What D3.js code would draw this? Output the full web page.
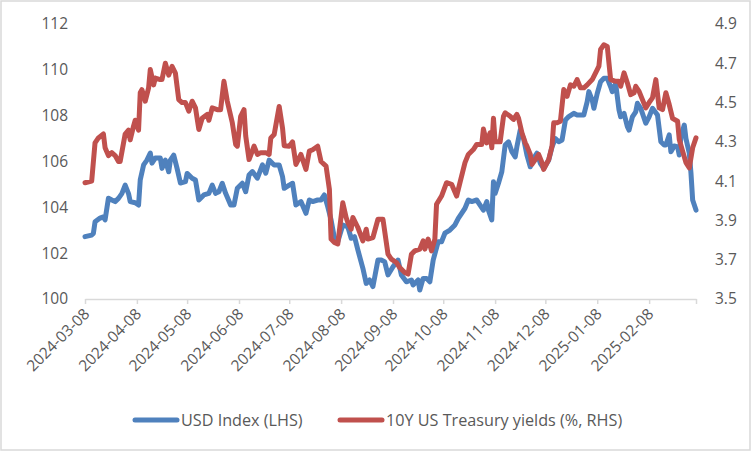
<!DOCTYPE html>
<html lang="en">
<head>
<meta charset="utf-8">
<script src="https://d3js.org/d3.v7.min.js"></script>
<style type="text/css">
body { margin: 0; background: #fff; }
/* chart text */
.chart text { font-family: "Open Sans", sans-serif; fill: #595959; }
</style>
</head>
<body>
<script type="text/javascript">

// USD index (left axis)
var usdDates = ["2024-03-08","2024-03-12","2024-03-13","2024-03-14","2024-03-17","2024-03-19","2024-03-20","2024-03-22","2024-03-24","2024-03-26",
"2024-03-28","2024-03-30","2024-04-01","2024-04-03","2024-04-04","2024-04-07","2024-04-09","2024-04-10","2024-04-12","2024-04-14",
"2024-04-16","2024-04-17","2024-04-19","2024-04-22","2024-04-23","2024-04-25","2024-04-27","2024-04-28","2024-04-30","2024-05-02",
"2024-05-04","2024-05-07","2024-05-08","2024-05-11","2024-05-13","2024-05-15","2024-05-18","2024-05-21","2024-05-23","2024-05-25",
"2024-05-27","2024-05-29","2024-05-31","2024-06-03","2024-06-05","2024-06-07","2024-06-10","2024-06-12","2024-06-14","2024-06-16",
"2024-06-19","2024-06-22","2024-06-24","2024-06-26","2024-06-29","2024-07-02","2024-07-04","2024-07-05","2024-07-08","2024-07-10",
"2024-07-12","2024-07-15","2024-07-18","2024-07-20","2024-07-22","2024-07-25","2024-07-27","2024-07-29","2024-07-31","2024-08-02",
"2024-08-04","2024-08-06","2024-08-09","2024-08-12","2024-08-14","2024-08-16","2024-08-18","2024-08-21","2024-08-23","2024-08-25",
"2024-08-27","2024-08-30","2024-09-01","2024-09-03","2024-09-05","2024-09-08","2024-09-11","2024-09-13","2024-09-16","2024-09-19",
"2024-09-20","2024-09-23","2024-09-24","2024-09-26","2024-09-28","2024-09-30","2024-10-02","2024-10-05","2024-10-07","2024-10-09",
"2024-10-12","2024-10-15","2024-10-17","2024-10-19","2024-10-21","2024-10-23","2024-10-25","2024-10-28","2024-10-30","2024-11-01",
"2024-11-03","2024-11-04","2024-11-06","2024-11-07","2024-11-08","2024-11-10","2024-11-12","2024-11-14","2024-11-16","2024-11-18",
"2024-11-20","2024-11-21","2024-11-23","2024-11-25","2024-11-27","2024-11-29","2024-12-01","2024-12-03","2024-12-05","2024-12-07",
"2024-12-10","2024-12-12","2024-12-14","2024-12-16","2024-12-18","2024-12-20","2024-12-22","2024-12-25","2024-12-27","2024-12-29",
"2024-12-31","2025-01-02","2025-01-03","2025-01-05","2025-01-06","2025-01-08","2025-01-10","2025-01-12","2025-01-14","2025-01-16",
"2025-01-17","2025-01-19","2025-01-21","2025-01-22","2025-01-24","2025-01-26","2025-01-27","2025-01-29","2025-01-31","2025-02-01",
"2025-02-03","2025-02-06","2025-02-08","2025-02-10","2025-02-13","2025-02-15","2025-02-17","2025-02-18","2025-02-20","2025-02-21",
"2025-02-23","2025-02-25","2025-02-26","2025-02-27","2025-03-01","2025-03-02","2025-03-04","2025-03-05","2025-03-06","2025-03-08"];
var usdValues = [102.72,102.79,102.86,103.37,103.53,103.59,103.45,104.40,104.32,104.25,
104.39,104.60,104.97,104.60,104.25,104.20,104.10,105.20,105.85,106.06,
106.37,105.93,106.15,106.15,105.70,106.06,105.55,106.06,106.28,105.70,
105.06,105.12,105.48,105.27,105.19,104.32,104.54,104.61,104.97,104.61,
104.68,105.05,104.61,104.10,104.10,104.83,105.05,104.68,105.41,105.56,
105.27,105.85,105.49,106.06,105.85,105.85,105.34,104.83,104.97,105.05,
104.10,104.25,103.74,104.32,104.25,104.32,104.32,104.54,104.03,103.45,
102.65,102.50,103.23,103.15,102.65,102.72,102.14,101.34,100.68,100.83,
100.54,101.70,101.70,101.63,101.05,101.41,101.70,101.05,100.75,100.83,
100.61,100.83,100.39,100.90,100.90,100.75,101.70,102.50,102.50,102.87,
103.01,103.23,103.52,103.74,103.96,104.32,104.25,104.32,104.10,103.88,
104.25,103.88,103.45,105.12,104.61,105.05,105.55,106.72,106.86,106.43,
106.20,106.64,107.37,107.00,106.28,105.77,106.14,106.36,105.92,105.70,
106.06,106.64,107.00,106.86,106.94,107.81,107.96,108.10,108.03,108.03,
108.03,108.61,109.05,108.68,108.32,108.97,109.48,109.63,109.63,109.26,
109.05,109.41,108.25,107.95,108.10,107.52,107.37,107.95,108.17,108.54,
108.32,107.67,107.95,108.32,108.03,106.86,106.72,106.72,107.16,106.43,
106.68,106.64,106.28,107.08,107.59,107.00,106.36,105.49,104.32,103.88];

// 10Y US Treasury yields (right axis)
var ustDates = ["2024-03-08","2024-03-12","2024-03-14","2024-03-16","2024-03-19","2024-03-20","2024-03-22","2024-03-24","2024-03-26","2024-03-28",
"2024-03-29","2024-04-01","2024-04-03","2024-04-04","2024-04-06","2024-04-07","2024-04-09","2024-04-10","2024-04-11","2024-04-13",
"2024-04-15","2024-04-16","2024-04-18","2024-04-19","2024-04-22","2024-04-23","2024-04-25","2024-04-27","2024-04-29","2024-05-01",
"2024-05-03","2024-05-05","2024-05-07","2024-05-09","2024-05-11","2024-05-13","2024-05-15","2024-05-17","2024-05-20","2024-05-21",
"2024-05-23","2024-05-26","2024-05-28","2024-05-30","2024-06-01","2024-06-04","2024-06-06","2024-06-07","2024-06-09","2024-06-11",
"2024-06-12","2024-06-14","2024-06-17","2024-06-19","2024-06-21","2024-06-24","2024-06-26","2024-06-27","2024-06-29","2024-07-02",
"2024-07-04","2024-07-05","2024-07-08","2024-07-10","2024-07-12","2024-07-15","2024-07-18","2024-07-20","2024-07-22","2024-07-25",
"2024-07-27","2024-07-30","2024-08-01","2024-08-02","2024-08-04","2024-08-06","2024-08-09","2024-08-11","2024-08-12","2024-08-14",
"2024-08-15","2024-08-18","2024-08-21","2024-08-23","2024-08-24","2024-08-27","2024-08-30","2024-09-02","2024-09-05","2024-09-07",
"2024-09-10","2024-09-12","2024-09-15","2024-09-17","2024-09-19","2024-09-21","2024-09-24","2024-09-26","2024-09-27","2024-09-29",
"2024-10-01","2024-10-03","2024-10-04","2024-10-07","2024-10-10","2024-10-13","2024-10-16","2024-10-18","2024-10-21","2024-10-23",
"2024-10-26","2024-10-28","2024-10-31","2024-11-01","2024-11-03","2024-11-05","2024-11-06","2024-11-07","2024-11-08","2024-11-11",
"2024-11-13","2024-11-14","2024-11-17","2024-11-19","2024-11-21","2024-11-22","2024-11-24","2024-11-26","2024-11-27","2024-11-29",
"2024-11-30","2024-12-02","2024-12-04","2024-12-06","2024-12-07","2024-12-10","2024-12-12","2024-12-13","2024-12-15","2024-12-17",
"2024-12-19","2024-12-21","2024-12-23","2024-12-25","2024-12-27","2024-12-29","2024-12-31","2025-01-02","2025-01-05","2025-01-08",
"2025-01-09","2025-01-10","2025-01-12","2025-01-14","2025-01-16","2025-01-19","2025-01-21","2025-01-22","2025-01-24","2025-01-26",
"2025-01-28","2025-01-30","2025-01-31","2025-02-02","2025-02-04","2025-02-06","2025-02-08","2025-02-10","2025-02-12","2025-02-14",
"2025-02-16","2025-02-18","2025-02-20","2025-02-22","2025-02-25","2025-02-26","2025-02-28","2025-03-02","2025-03-04","2025-03-06",
"2025-03-08"];
var ustValues = [4.092,4.10,4.295,4.32,4.34,4.27,4.23,4.245,4.23,4.20,
4.20,4.34,4.36,4.31,4.38,4.41,4.36,4.55,4.566,4.507,
4.575,4.668,4.59,4.625,4.617,4.617,4.70,4.64,4.684,4.65,
4.515,4.50,4.50,4.456,4.507,4.473,4.363,4.42,4.44,4.41,
4.473,4.464,4.464,4.608,4.507,4.397,4.287,4.278,4.43,4.464,
4.33,4.21,4.278,4.236,4.245,4.245,4.236,4.32,4.337,4.48,
4.37,4.28,4.278,4.30,4.185,4.236,4.16,4.253,4.26,4.278,
4.20,4.177,4.058,3.805,3.788,3.78,3.99,3.915,3.89,3.855,
3.915,3.864,3.796,3.855,3.805,3.813,3.906,3.906,3.728,3.703,
3.686,3.66,3.635,3.627,3.728,3.745,3.754,3.796,3.754,3.805,
3.745,3.805,3.982,4.024,4.092,4.084,4.024,4.092,4.194,4.236,
4.261,4.287,4.287,4.365,4.295,4.346,4.27,4.42,4.30,4.30,
4.43,4.448,4.43,4.414,4.44,4.42,4.346,4.295,4.278,4.236,
4.185,4.21,4.236,4.194,4.16,4.21,4.278,4.397,4.397,4.405,
4.566,4.532,4.59,4.583,4.617,4.575,4.575,4.59,4.617,4.668,
4.685,4.77,4.794,4.786,4.617,4.608,4.608,4.583,4.651,4.60,
4.54,4.55,4.583,4.557,4.515,4.473,4.50,4.524,4.617,4.473,
4.464,4.55,4.49,4.42,4.405,4.312,4.253,4.194,4.168,4.27,
4.32];

var xTickLabels = ["2024-03-08","2024-04-08","2024-05-08","2024-06-08","2024-07-08","2024-08-08",
"2024-09-08","2024-10-08","2024-11-08","2024-12-08","2025-01-08","2025-02-08"];
var xEnd = "2025-03-08";
var leftTicks = [100, 102, 104, 106, 108, 110, 112];
var rightTicks = [3.5, 3.7, 3.9, 4.1, 4.3, 4.5, 4.7, 4.9];
var seriesNames = ["USD Index (LHS)", "10Y US Treasury yields (%, RHS)"];
var seriesColors = ["#4F81BD", "#C0504D"];

var width = 752, height = 452;
var parse = d3.timeParse("%Y-%m-%d");

var svg = d3.select("body").append("svg")
	.attr("class", "chart")
	.attr("width", width)
	.attr("height", height);

// chart area border
svg.append("rect")
	.attr("x", 1).attr("y", 1)
	.attr("width", width - 3).attr("height", height - 3)
	.attr("fill", "#fff")
	.attr("stroke", "#d9d9d9")
	.attr("stroke-width", 1.5);

var x = d3.scaleTime()
	.domain([parse(xTickLabels[0]), parse(xEnd)])
	.range([85, 696]);
var yL = d3.scaleLinear().domain([100, 112]).range([299, 24]);
var yR = d3.scaleLinear().domain([3.5, 4.9]).range([299, 24]);

// x axis
var xTicks = xTickLabels.map(parse).concat([parse(xEnd)]);
var xAxis = svg.append("g")
	.attr("transform", "translate(0,299)")
	.call(d3.axisBottom(x)
		.tickValues(xTicks)
		.tickSize(5)
		.tickSizeOuter(0)
		.tickFormat(function(d, i) { return i < xTickLabels.length ? xTickLabels[i] : ""; }));
xAxis.select(".domain").attr("stroke", "#d9d9d9").attr("stroke-width", 1.5);
xAxis.selectAll(".tick line").attr("stroke", "#d9d9d9").attr("stroke-width", 1.5);
xAxis.selectAll(".tick text")
	.attr("font-size", 15.5)
	.attr("text-anchor", "end")
	.attr("x", 0).attr("y", 0).attr("dy", 0)
	.attr("transform", "translate(5,16) rotate(-45)");

// left axis
var lAxis = svg.append("g")
	.attr("transform", "translate(85,0)")
	.call(d3.axisLeft(yL).tickValues(leftTicks).tickSize(0).tickPadding(17));
lAxis.select(".domain").remove();
lAxis.selectAll("text").attr("font-size", 15.5);

// right axis
var rAxis = svg.append("g")
	.attr("transform", "translate(696,0)")
	.call(d3.axisRight(yR).tickValues(rightTicks).tickSize(0).tickPadding(19)
		.tickFormat(d3.format(".1f")));
rAxis.select(".domain").remove();
rAxis.selectAll("text").attr("font-size", 15.5);

// lines
var usdLine = d3.line()
	.x(function(d, i) { return x(parse(usdDates[i])); })
	.y(function(d) { return yL(d); });
var ustLine = d3.line()
	.x(function(d, i) { return x(parse(ustDates[i])); })
	.y(function(d) { return yR(d); });

svg.append("path")
	.datum(usdValues)
	.attr("d", usdLine)
	.attr("fill", "none")
	.attr("stroke", seriesColors[0])
	.attr("stroke-width", 5)
	.attr("stroke-linejoin", "round")
	.attr("stroke-linecap", "round");

svg.append("path")
	.datum(ustValues)
	.attr("d", ustLine)
	.attr("fill", "none")
	.attr("stroke", seriesColors[1])
	.attr("stroke-width", 5)
	.attr("stroke-linejoin", "round")
	.attr("stroke-linecap", "round");

// legend
var legendX = [135, 340];
var legend = svg.selectAll(".legend")
	.data(seriesNames)
	.enter().append("g")
	.attr("class", "legend")
	.attr("transform", function(d, i) { return "translate(" + legendX[i] + ",420)"; });

legend.append("line")
	.attr("x1", 0).attr("x2", 42)
	.attr("y1", 0).attr("y2", 0)
	.attr("stroke", function(d, i) { return seriesColors[i]; })
	.attr("stroke-width", 5)
	.attr("stroke-linecap", "round");

legend.append("text")
	.attr("x", 46)
	.attr("y", 0)
	.attr("dy", "0.35em")
	.attr("font-size", 16.2)
	.text(function(d) { return d; });

</script>
</body>
</html>
